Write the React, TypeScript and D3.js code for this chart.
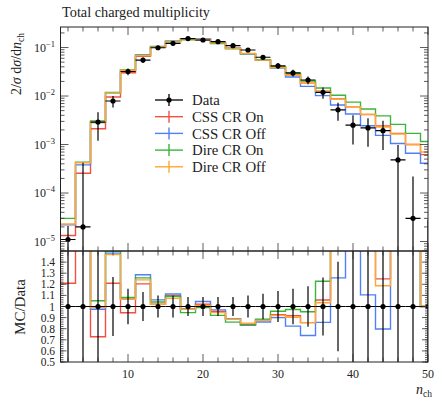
import * as React from 'react';
import * as d3 from 'd3';

// n_ch bin centres (bins are 2 wide)
const binCentres = [2, 4, 6, 8, 10, 12, 14, 16, 18, 20, 22, 24, 26, 28, 30, 32, 34, 36, 38, 40, 42, 44, 46, 48, 50];

const dataValues = [1.1e-5, 2.0e-5, 2.9e-3, 7.9e-3, 0.032, 0.055, 0.099, 0.122, 0.153, 0.143, 0.132, 0.109, 0.089,
  0.063, 0.042, 0.030, 0.0214, 0.0119, 0.0052, 2.5e-3, 2.2e-3, 1.93e-3, 4.8e-4, 3.0e-5, 0];
const dataErrors = [1.0e-5, 4.0e-4, 1.7e-3, 2.1e-3, 5.1e-3, 7.2e-3, 9.9e-3, 0.0122, 0.013, 0.0122, 0.0112, 9.3e-3, 8.9e-3,
  7.2e-3, 5.9e-3, 4.8e-3, 3.9e-3, 3.1e-3, 2.1e-3, 1.5e-3, 1.3e-3, 1.16e-3, 5.0e-4, 1.9e-4, 2.8e-5];

const cssOn = [1.33e-5, 2.55e-4, 2.11e-3, 9.56e-3, 0.0302, 0.0662, 0.101, 0.1338, 0.1499, 0.1459, 0.1261, 0.097, 0.0748,
  0.0554, 0.0389, 0.0275, 0.0183, 0.0126, 0.0087, 6.0e-3, 4.14e-3, 2.41e-3, 1.7e-3, 1.0e-3, 6.2e-4];
const cssOff = [2.2e-5, 3.8e-4, 2.83e-3, 0.0117, 0.0342, 0.0707, 0.1049, 0.1357, 0.1499, 0.1494, 0.128, 0.097, 0.0741,
  0.0542, 0.0378, 0.0247, 0.0158, 0.0102, 6.54e-3, 4.25e-3, 2.43e-3, 1.54e-3, 1.05e-3, 6.6e-4, 4.1e-4];
const direOn = [3.0e-5, 4.3e-4, 3.05e-3, 0.01185, 0.0346, 0.0692, 0.103, 0.133, 0.1446, 0.1416, 0.1214, 0.0937, 0.0739,
  0.0558, 0.0402, 0.0292, 0.0204, 0.0146, 0.0104, 7.5e-3, 5.4e-3, 3.9e-3, 2.6e-3, 1.7e-3, 1.15e-3];
const direOff = [2.3e-5, 4.2e-4, 2.87e-3, 0.01159, 0.0341, 0.0682, 0.101, 0.1309, 0.1493, 0.1444, 0.1247, 0.0965, 0.0757,
  0.0551, 0.0386, 0.0271, 0.0183, 0.0123, 0.0086, 6.0e-3, 4.2e-3, 2.29e-3, 1.65e-3, 1.0e-3, 7.0e-4];

const seriesNames = ['CSS CR On', 'CSS CR Off', 'Dire CR On', 'Dire CR Off'];
const seriesValues = [cssOn, cssOff, direOn, direOff];
const seriesColors = ['#f2513f', '#4f80f7', '#3cb43c', '#ffa634'];

const xTickLabels = [10, 20, 30, 40, 50];
const logTickExponents = [-1, -2, -3, -4, -5];
const ratioTickLabels = ['1.4', '1.3', '1.2', '1.1', '1', '0.9', '0.8', '0.7', '0.6', '0.5'];

const W = 436;
const H = 398;
const left = 60.5;
const right = 428;
const mainTop = 27;
const mainBottom = 251;
const ratioBottom = 362;
const font = '"Liberation Serif", "DejaVu Serif", serif';

const x = d3.scaleLinear().domain([1, 50]).range([left, right]);
const y = d3.scaleLog().domain([6.37e-6, 0.265]).range([mainBottom, mainTop]);
const yr = d3.scaleLinear().domain([0.5, 1.5]).range([ratioBottom, mainBottom]);

function stepPath(vals: number[], ys: (v: number) => number) {
  let d = '';
  binCentres.forEach((c, i) => {
    const yy = ys(vals[i]);
    d += (i === 0 ? `M${x(c - 1)},${yy}` : `V${yy}`) + `H${x(c + 1)}`;
  });
  return d;
}

const ratioOf = (v: number, i: number) => (dataValues[i] > 0 ? v / dataValues[i] : 1);

export default function App() {
  const xTicks = d3.range(2, 51, 2);
  const minorLog: number[] = [];
  for (let e = -6; e <= -1; e++) {
    for (let k = 2; k <= 9; k++) {
      const v = k * Math.pow(10, e);
      if (v > y.domain()[0] && v < y.domain()[1]) minorLog.push(v);
    }
  }
  const ratioMinor = d3.range(0.5, 1.501, 0.02);
  const ratioMajor = d3.range(0.5, 1.501, 0.1);
  const tk = { stroke: '#333', strokeWidth: 0.8 };

  return (
    <div>
      <style>{'body{margin:0}'}</style>
      <svg width={W} height={H} style={{ display: 'block', background: '#fff' }} fontFamily={font} fill="#222">
        <defs>
          <clipPath id="clipMain"><rect x={left} y={mainTop} width={right - left} height={mainBottom - mainTop} /></clipPath>
          <clipPath id="clipRatio"><rect x={left} y={mainBottom} width={right - left} height={ratioBottom - mainBottom} /></clipPath>
        </defs>

        <text x={62} y={17} fontSize={14.3}>Total charged multiplicity</text>

        {/* main panel */}
        <g clipPath="url(#clipMain)">
          {seriesValues.map((vals, s) => (
            <path key={s} d={stepPath(vals, y)} fill="none" stroke={seriesColors[s]} strokeWidth={1.4} />
          ))}
          {binCentres.map((c, i) => {
            const v = dataValues[i];
            const lo = v - dataErrors[i];
            const yLo = lo > 0 ? y(lo) : mainBottom + 5;
            const yHi = y(v + dataErrors[i]);
            return (
              <g key={c}>
                <line x1={x(c)} x2={x(c)} y1={yLo} y2={yHi} stroke="#000" strokeWidth={1.2} />
                {v > 0 && <line x1={x(c - 1)} x2={x(c + 1)} y1={y(v)} y2={y(v)} stroke="#000" strokeWidth={1.2} />}
                {v > 0 && <circle cx={x(c)} cy={y(v)} r={2.6} fill="#000" />}
              </g>
            );
          })}
        </g>

        {/* ratio panel */}
        <g clipPath="url(#clipRatio)">
          {seriesValues.map((vals, s) => (
            <path key={s} d={stepPath(vals.map(ratioOf), yr)} fill="none" stroke={seriesColors[s]} strokeWidth={1.4} />
          ))}
          {binCentres.map((c, i) => {
            const v = dataValues[i];
            const rel = v > 0 ? dataErrors[i] / v : 10;
            return (
              <g key={c}>
                <line x1={x(c)} x2={x(c)} y1={yr(1 - rel)} y2={yr(1 + rel)} stroke="#000" strokeWidth={1.2} />
                <line x1={x(c - 1)} x2={x(c + 1)} y1={yr(1)} y2={yr(1)} stroke="#000" strokeWidth={1.2} />
                <circle cx={x(c)} cy={yr(1)} r={2.6} fill="#000" />
              </g>
            );
          })}
        </g>

        {/* x ticks on both panels */}
        {xTicks.map(t => {
          const len = t % 10 === 0 ? 8 : 4.5;
          const xx = x(t);
          return (
            <g key={t} {...tk}>
              <line x1={xx} x2={xx} y1={mainTop} y2={mainTop + len} />
              <line x1={xx} x2={xx} y1={mainBottom} y2={mainBottom - len} />
              <line x1={xx} x2={xx} y1={mainBottom} y2={mainBottom + len} />
              <line x1={xx} x2={xx} y1={ratioBottom} y2={ratioBottom - len} />
            </g>
          );
        })}

        {/* main y ticks */}
        {logTickExponents.map(e => {
          const yy = y(Math.pow(10, e));
          return (
            <g key={e}>
              <line x1={left} x2={left + 8} y1={yy} y2={yy} {...tk} />
              <line x1={right} x2={right - 8} y1={yy} y2={yy} {...tk} />
              <text x={55} y={yy} dy="0.35em" textAnchor="end" fontSize={12}>
                10<tspan fontSize={8.5} dy={-4.8}>{'\u2212' + Math.abs(e)}</tspan>
              </text>
            </g>
          );
        })}
        {minorLog.map((v, i) => (
          <g key={i} {...tk}>
            <line x1={left} x2={left + 4} y1={y(v)} y2={y(v)} />
            <line x1={right} x2={right - 4} y1={y(v)} y2={y(v)} />
          </g>
        ))}

        {/* ratio y ticks */}
        {ratioMinor.map((v, i) => (
          <g key={i} {...tk}>
            <line x1={left} x2={left + 3} y1={yr(v)} y2={yr(v)} />
            <line x1={right} x2={right - 3} y1={yr(v)} y2={yr(v)} />
          </g>
        ))}
        {ratioMajor.map((v, i) => (
          <g key={i} {...tk}>
            <line x1={left} x2={left + 6} y1={yr(v)} y2={yr(v)} />
            <line x1={right} x2={right - 6} y1={yr(v)} y2={yr(v)} />
          </g>
        ))}
        {ratioTickLabels.map(l => (
          <text key={l} x={55} y={yr(+l)} dy="0.35em" textAnchor="end" fontSize={11.5}>{l}</text>
        ))}

        {/* frames */}
        <rect x={left} y={mainTop} width={right - left} height={mainBottom - mainTop} fill="none" stroke="#222" strokeWidth={1} />
        <rect x={left} y={mainBottom} width={right - left} height={ratioBottom - mainBottom} fill="none" stroke="#222" strokeWidth={1} />

        {/* x tick labels */}
        {xTickLabels.map(t => (
          <text key={t} x={x(t)} y={378} textAnchor="middle" fontSize={12}>{t}</text>
        ))}
        <text x={432} y={394} textAnchor="end" fontSize={14}>
          <tspan fontStyle="italic">n</tspan><tspan fontSize={9.5} dy={3}>ch</tspan>
        </text>

        {/* axis titles */}
        <text transform="translate(21,64) rotate(-90)" textAnchor="middle" fontSize={14}>
          2/<tspan fontStyle="italic">σ</tspan> d<tspan fontStyle="italic">σ</tspan>/d<tspan fontStyle="italic">n</tspan>
          <tspan fontSize={9.5} dy={3}>ch</tspan>
        </text>
        <text transform="translate(25,307) rotate(-90)" textAnchor="middle" fontSize={15}>MC/Data</text>

        {/* legend */}
        <g>
          <line x1={155} x2={183} y1={100} y2={100} stroke="#000" strokeWidth={1.3} />
          <line x1={169} x2={169} y1={94} y2={106} stroke="#000" strokeWidth={1.3} />
          <circle cx={169} cy={100} r={2.6} fill="#000" />
          <text x={192} y={100} dy="0.35em" fontSize={14.8}>Data</text>
          {seriesNames.map((name, s) => {
            const yy = 116.7 + s * 16.7;
            return (
              <g key={name}>
                <line x1={155} x2={183} y1={yy} y2={yy} stroke={seriesColors[s]} strokeWidth={1.4} />
                <line x1={169} x2={169} y1={yy - 6} y2={yy + 6} stroke={seriesColors[s]} strokeWidth={1.4} />
                <text x={192} y={yy} dy="0.35em" fontSize={14.8}>{name}</text>
              </g>
            );
          })}
        </g>
      </svg>
    </div>
  );
}
